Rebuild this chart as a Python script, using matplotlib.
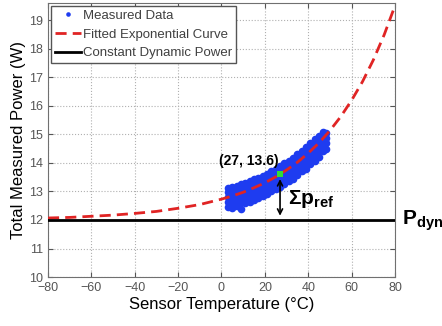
import matplotlib
matplotlib.use("Agg")
import matplotlib.pyplot as plt

plt.rcParams['font.family'] = ['Liberation Sans', 'DejaVu Sans']
plt.rcParams['mathtext.fontset'] = 'custom'
plt.rcParams['mathtext.rm'] = 'Liberation Sans'
plt.rcParams['mathtext.bf'] = 'Liberation Sans:bold'

# measured data, read column by column off the cloud
meas_temp_cols = [3, 4, 5, 7, 9, 11, 13, 15, 17, 19, 21, 23, 25, 27, 29, 31,
                  33, 35, 37, 39, 41, 43, 45, 47, 48]
meas_power_cols = [
    [12.45, 12.62, 12.80, 12.98, 13.12],
    [12.50, 12.70, 12.88, 13.05],
    [12.42, 12.60, 12.78, 12.95, 13.15],
    [12.48, 12.66, 12.85, 13.02, 13.20],
    [12.40, 12.62, 12.82, 13.05, 13.25],
    [12.60, 12.78, 12.96, 13.14, 13.30],
    [12.62, 12.82, 13.00, 13.18, 13.38],
    [12.70, 12.88, 13.06, 13.25, 13.45],
    [12.78, 12.95, 13.12, 13.30, 13.48],
    [12.85, 13.02, 13.20, 13.38, 13.55],
    [12.92, 13.10, 13.28, 13.45, 13.62],
    [13.00, 13.18, 13.36, 13.54, 13.70],
    [13.08, 13.26, 13.45, 13.62, 13.78],
    [13.15, 13.33, 13.52, 13.70, 13.88],
    [13.25, 13.44, 13.62, 13.80, 13.98],
    [13.35, 13.54, 13.72, 13.90, 14.08],
    [13.45, 13.64, 13.83, 14.02, 14.18],
    [13.58, 13.76, 13.95, 14.12, 14.30],
    [13.70, 13.88, 14.06, 14.25, 14.42],
    [13.80, 13.99, 14.18, 14.37, 14.55],
    [13.95, 14.14, 14.32, 14.50, 14.68],
    [14.08, 14.27, 14.46, 14.65, 14.82],
    [14.20, 14.40, 14.60, 14.78, 14.95],
    [14.40, 14.58, 14.76, 14.92, 15.08],
    [14.50, 14.70, 14.88, 15.05],
]

# fitted exponential curve
fit_temp = [-80, -70, -60, -50, -40, -30, -20, -10, 0, 5, 10, 15, 20, 25, 30,
            35, 40, 45, 50, 55, 60, 65, 70, 75, 80]
fit_power = [12.07, 12.09, 12.13, 12.17, 12.23, 12.30, 12.41, 12.54, 12.73,
             12.84, 12.97, 13.13, 13.30, 13.51, 13.75, 14.02, 14.34, 14.70,
             15.13, 15.62, 16.19, 16.84, 17.60, 18.48, 19.50]

p_dyn = 12.0
ref_temp, ref_power = 27, 13.6

meas_temp = []
meas_power = []
for t, col in zip(meas_temp_cols, meas_power_cols):
    for p in col:
        meas_temp.append(t)
        meas_power.append(p)

fig = plt.figure(figsize=(4.42, 3.26), dpi=100)
ax = fig.add_axes([0.1086, 0.150, 0.785, 0.841])

ax.plot(meas_temp, meas_power, 'o', color='#1e3cf0', markersize=5.5,
        markeredgewidth=0, label='Measured Data', zorder=3)
ax.plot(fit_temp, fit_power, '--', color='#e02424', linewidth=2,
        dashes=(4, 2.2), label='Fitted Exponential Curve', zorder=4)
ax.axhline(p_dyn, color='black', linewidth=2, label='Constant Dynamic Power', zorder=4)
ax.plot(ref_temp, ref_power, 's', color='#33dd33', markersize=4.5,
        markeredgewidth=0, zorder=6)

ax.annotate('', xy=(ref_temp, p_dyn + 0.05), xytext=(ref_temp, ref_power - 0.07),
            arrowprops=dict(arrowstyle='<->', color='black', lw=1.2,
                            mutation_scale=9), zorder=7)
ax.text(12.5, 14.05, '(27, 13.6)', fontsize=10, fontweight='bold',
        ha='center', va='center')
ax.text(30.5, 12.75, r'$\mathbf{\Sigma p_{ref}}$', fontsize=15,
        ha='left', va='center')
ax.text(83.3, 11.97, r'$\mathbf{P_{dyn}}$', fontsize=15,
        ha='left', va='center', clip_on=False)

ax.set_xlim(-80, 80)
ax.set_ylim(10, 19.6)
ax.set_xticks(range(-80, 81, 20))
ax.set_yticks(range(10, 20))
ax.grid(True, linestyle=':', color='#b0b0b0', linewidth=0.8)
ax.tick_params(direction='in', top=True, right=True, length=3.5,
               labelsize=9, labelcolor='#555555', color='#555555')
for s in ax.spines.values():
    s.set_color('#707070')

ax.set_xlabel('Sensor Temperature (°C)', fontsize=12, labelpad=2)
ax.set_ylabel('Total Measured Power (W)', fontsize=12, labelpad=2)

leg = ax.legend(loc='upper left', fontsize=9.5, handlelength=2.0,
                handletextpad=0.15, borderpad=0.3, labelspacing=0.5,
                borderaxespad=0.2, fancybox=False, framealpha=1,
                markerscale=0.6, numpoints=1)
leg.get_frame().set_edgecolor('#555555')
for t in leg.get_texts():
    t.set_color('#404040')

fig.savefig('out.png', dpi=100)
